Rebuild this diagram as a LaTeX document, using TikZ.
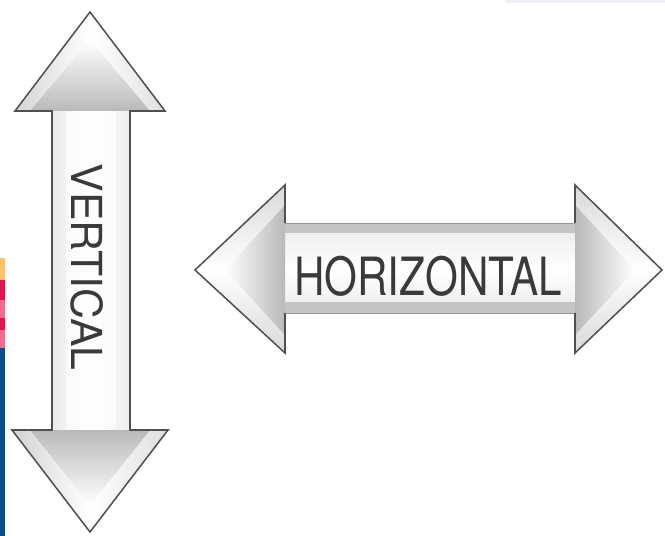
\documentclass[tikz,border=0pt]{standalone}
\usepackage{fontspec}
\setmainfont{TeX Gyre Heros}
\definecolor{outl}{HTML}{505050}
\definecolor{txt}{HTML}{3A3A3A}
\definecolor{band}{HTML}{C4C4C4}
\definecolor{stripblue}{HTML}{0B4C8C}
\definecolor{stripred}{HTML}{E3124E}
\definecolor{strippink}{HTML}{F26A8C}
\definecolor{stripyel}{HTML}{F7C46A}
\definecolor{faint}{HTML}{EEF0F6}
\begin{document}
\begin{tikzpicture}[x=0.03cm,y=-0.03cm,
  arrowbody/.style={draw=outl, line width=1.3pt, line join=miter},
  lbl/.style={text=txt, inner sep=0pt}]
\useasboundingbox (0,0) rectangle (665,536);
\fill[white] (0,0) rectangle (665,536);
% faint strip top right
\fill[faint] (505,0) rectangle (665,3);
% coloured strip at left
\fill[stripyel] (0,258) rectangle (5,280);
\fill[stripred] (0,280) rectangle (5,300);
\fill[strippink] (0,300) rectangle (5,318);
\fill[stripred] (0,318) rectangle (5,330);
\fill[strippink] (0,330) rectangle (5,348);
\fill[stripblue] (0,348) rectangle (5,536);
% vertical arrow
\shade[left color=gray!35, right color=gray!25, middle color=white]
  (90,12) -- (165,111) -- (130,111) -- (130,430) -- (168,430) -- (90,532)
  -- (12,430) -- (52,430) -- (52,111) -- (15,111) -- cycle;
\shade[top color=white, bottom color=gray!55] (90,40) -- (150,111) -- (30,111) -- cycle;
\shade[top color=gray!55, bottom color=white] (90,505) -- (150,430) -- (30,430) -- cycle;
\fill[white, opacity=0.6] (66,111) rectangle (116,430);
\draw[arrowbody]
  (90,12) -- (165,111) -- (130,111) -- (130,430) -- (168,430) -- (90,532)
  -- (12,430) -- (52,430) -- (52,111) -- (15,111) -- cycle;
% horizontal arrow
\shade[top color=gray!30, bottom color=gray!30, middle color=white]
  (195,270) -- (285,185) -- (285,223) -- (575,223) -- (575,185) -- (662,270)
  -- (575,353) -- (575,313) -- (285,313) -- (285,353) -- cycle;
\shade[left color=white, right color=gray!55] (225,270) -- (285,205) -- (285,335) -- cycle;
\shade[left color=gray!55, right color=white] (635,270) -- (575,205) -- (575,335) -- cycle;
\fill[band] (285,223) rectangle (575,233);
\fill[band] (285,302) rectangle (575,313);
\draw[outl!60, line width=0.8pt] (285,223) -- (575,223) (285,313) -- (575,313);
\draw[arrowbody]
  (285,223) -- (285,185) -- (195,270) -- (285,353) -- (285,313)
  (575,223) -- (575,185) -- (662,270) -- (575,353) -- (575,313);
% labels
\node[lbl, rotate=-90, font=\fontsize{36.5}{37}\selectfont] (vlabel) at (87,267) {VERTICAL};
\node[lbl, font=\fontsize{45}{46}\selectfont] (hlabel) at (428,276) {\scalebox{0.8}[1]{HORIZONTAL}};
\end{tikzpicture}
\end{document}
